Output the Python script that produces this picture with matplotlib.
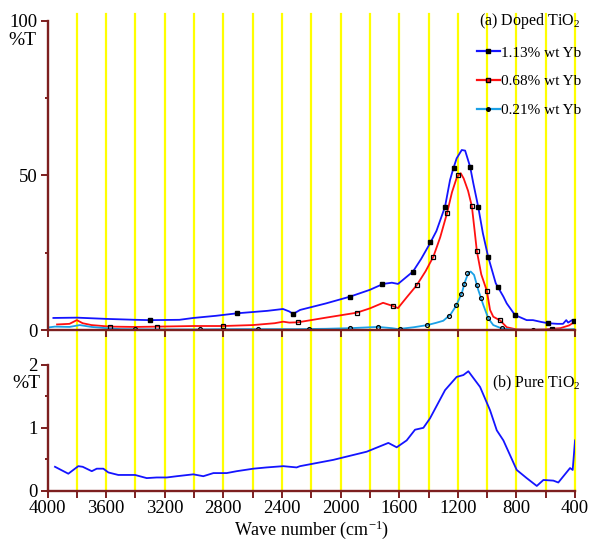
import numpy as np
import matplotlib
matplotlib.use("Agg")
import matplotlib.pyplot as plt
from matplotlib.lines import Line2D
from matplotlib import transforms

plt.rcParams['font.family'] = ['Liberation Serif', 'DejaVu Serif']
plt.rcParams['mathtext.fontset'] = 'custom'
plt.rcParams['mathtext.rm'] = 'Liberation Serif'
plt.rcParams['mathtext.it'] = 'Liberation Serif:italic'

# (a) doped TiO2 spectra
wn_113 = [3960, 3800, 3600, 3400, 3300, 3100, 3005, 2850, 2708, 2500, 2393, 2350, 2324, 2276,
          2100, 1935, 1800, 1710, 1650, 1608, 1506, 1450, 1390, 1346, 1287, 1253, 1232, 1208,
          1173, 1150, 1116, 1094, 1061, 1029, 993, 941, 889, 866, 810, 730, 687, 630, 584,
          520, 482, 460, 447, 420, 400]
t_113 = [3.9, 4.0, 3.6, 3.3, 3.2, 3.3, 3.9, 4.6, 5.4, 6.2, 6.8, 6.0, 5.2, 6.5,
         8.6, 10.8, 13.0, 14.9, 15.3, 14.9, 18.9, 23.0, 28.0, 32.0, 39.9, 48.5, 52.0, 55.5,
         58.2, 58.0, 52.8, 47.4, 39.9, 31.3, 23.7, 15.1, 10.8, 8.6, 4.85, 3.2, 3.2, 2.6, 2.2,
         2.0, 2.0, 3.2, 2.4, 3.2, 3.0]

wn_068 = [3935, 3850, 3800, 3760, 3700, 3574, 3400, 3254, 3000, 2800, 2600, 2450, 2392, 2350,
          2290, 2100, 1890, 1800, 1710, 1645, 1608, 1550, 1480, 1420, 1367, 1320, 1274, 1240,
          1205, 1180, 1160, 1130, 1104, 1085, 1070, 1040, 1002, 980, 958, 911, 866, 800, 700,
          600, 560, 500, 440, 400]
t_068 = [1.8, 2.0, 3.2, 2.2, 1.6, 1.1, 1.0, 1.1, 1.3, 1.3, 1.6, 2.2, 2.7, 2.4,
         2.5, 4.0, 5.6, 7.0, 8.8, 7.8, 7.1, 10.5, 14.5, 19.0, 23.7, 30.0, 37.7, 44.5,
         49.6, 50.7, 49.0, 45.0, 40.0, 32.0, 25.5, 18.0, 12.7, 6.5, 4.3, 3.1, 0.9, 0.2, 0.1,
         0.2, 0.4, 0.6, 1.5, 2.7]

wn_021 = [4000, 3950, 3850, 3780, 3700, 3600, 3500, 3300, 3000, 2700, 2500, 2300, 2100, 1935,
          1745, 1650, 1608, 1500, 1408, 1350, 1299, 1250, 1212, 1173, 1151, 1128, 1112, 1089,
          1060, 1026, 992, 958, 900, 810, 700, 560, 450, 400]
t_021 = [0.8, 1.1, 1.0, 1.6, 1.0, 0.6, 0.3, 0.2, 0.2, 0.3, 0.3, 0.3, 0.4, 0.6,
         1.0, 0.6, 0.3, 0.9, 1.6, 2.3, 3.0, 5.0, 7.8, 11.9, 15.6, 18.5, 18.9, 17.8,
         12.9, 8.1, 3.8, 1.6, 0.5, 0.1, 0.1, 0.1, 0.2, 0.3]

# marker positions on each curve
mk_wn_113 = [3300, 2708, 2324, 1935, 1717, 1506, 1387, 1287, 1228, 1116, 1061, 993, 925, 810, 584, 405]
mk_t_113 = [3.2, 5.4, 5.2, 10.8, 14.8, 18.9, 28.3, 39.9, 52.5, 52.8, 39.9, 23.7, 14.0, 4.85, 2.2, 3.0]
mk_wn_068 = [3574, 3254, 2800, 2290, 1890, 1645, 1480, 1367, 1274, 1200, 1104, 1070, 1002, 911, 560]
mk_t_068 = [1.1, 1.1, 1.3, 2.5, 5.6, 7.8, 14.5, 23.7, 37.7, 50.0, 40.0, 25.5, 12.7, 3.1, 0.4]
mk_wn_021 = [3400, 2960, 2566, 2215, 1935, 1745, 1594, 1408, 1260, 1209, 1180, 1161, 1136,
             1070, 1045, 993, 900, 690, 558]
mk_t_021 = [0.3, 0.2, 0.3, 0.3, 0.6, 1.0, 0.4, 1.6, 4.6, 8.2, 11.5, 14.8, 18.3,
            14.5, 10.5, 3.8, 0.5, 0.1, 0.1]

# (b) pure TiO2
wn_pure = [3949, 3858, 3790, 3760, 3698, 3664, 3619, 3585, 3517, 3403, 3323, 3255, 3186, 3118,
           3005, 2937, 2868, 2777, 2709, 2595, 2504, 2391, 2300, 2277, 2050, 1822, 1674, 1617,
           1549, 1492, 1435, 1390, 1287, 1208, 1162, 1128, 1048, 980, 934, 889, 798, 730,
           661, 616, 548, 514, 434, 416, 400]
t_pure = [0.38, 0.27, 0.39, 0.38, 0.31, 0.35, 0.35, 0.29, 0.25, 0.25, 0.20, 0.21, 0.21, 0.23,
          0.26, 0.23, 0.28, 0.28, 0.31, 0.35, 0.37, 0.39, 0.37, 0.39, 0.49, 0.62, 0.76, 0.69,
          0.80, 0.97, 1.00, 1.15, 1.60, 1.81, 1.84, 1.90, 1.65, 1.28, 0.96, 0.80, 0.33, 0.20,
          0.075, 0.17, 0.16, 0.13, 0.36, 0.33, 0.80]

labels = ['1.13% wt Yb', '0.68% wt Yb', '0.21% wt Yb']
grid_wn = list(range(3800, 399, -200))

maroon = '#7d1f1f'
blue = '#1414ff'
red = '#ff1010'
cyan = '#1aa0e6'

fig = plt.figure(figsize=(5.97, 5.42), dpi=100)
ax1 = fig.add_axes([0.0796, 0.3911, 0.8836, 0.5707])
ax2 = fig.add_axes([0.0796, 0.0947, 0.8836, 0.2319])

for ax in (ax1, ax2):
    ax.set_facecolor('none')
    ax.set_xlim(4000, 400)
    for s in ('top', 'right'):
        ax.spines[s].set_visible(False)
    for s in ('left', 'bottom'):
        ax.spines[s].set_color(maroon)
        ax.spines[s].set_linewidth(1.7)
    ax.tick_params(colors=maroon, labelcolor='black', labelsize=13.5, width=1.4, length=5, pad=2)
    ax.tick_params(which='minor', colors=maroon, width=1.4, length=2)

# yellow grid lines running through both panels
tr = transforms.blended_transform_factory(ax1.transData, fig.transFigure)
for w in grid_wn:
    fig.add_artist(Line2D([w, w], [0.0941, 0.9742], transform=tr, color='#ffff00',
                          lw=1.6, zorder=-1))

ax1.plot(wn_113, t_113, color=blue, lw=1.3)
ax1.plot(wn_068, t_068, color=red, lw=1.3)
ax1.plot(wn_021, t_021, color=cyan, lw=1.3)
ax1.plot(mk_wn_113, mk_t_113, ls='none', marker='s', ms=2.8, mfc='black', mec='black')
ax1.plot(mk_wn_068, mk_t_068, ls='none', marker='s', ms=2.9, mfc='none', mec='black', mew=0.9)
ax1.plot(mk_wn_021, mk_t_021, ls='none', marker='o', ms=2.8, mfc='none', mec='black', mew=0.9)

ax1.set_ylim(0, 100)
ax1.set_yticks([0, 50, 100])
ax1.set_yticks([25, 75], minor=True)
ax1.set_xticks(range(4000, 399, -400))
ax1.tick_params(axis='x', labelbottom=False)

handles = [
    Line2D([], [], color=blue, lw=1.6, marker='s', ms=2.8, mfc='black', mec='black'),
    Line2D([], [], color=red, lw=1.6, marker='s', ms=3.0, mfc=red, mec='black'),
    Line2D([], [], color=cyan, lw=1.6, marker='o', ms=2.6, mfc='black', mec='black'),
]
ax1.legend(handles, labels, title='(a) Doped TiO$_2$', loc='upper left',
           bbox_to_anchor=(477 / 597, 1 - 11 / 542), bbox_transform=fig.transFigure,
           frameon=False, fontsize=11, title_fontsize=11.5, borderpad=0, borderaxespad=0,
           handlelength=1.5, handletextpad=0.1, labelspacing=0.98)

ax2.plot(wn_pure, t_pure, color=blue, lw=1.3)
ax2.set_ylim(0, 2)
ax2.set_yticks([0, 1, 2])
ax2.set_yticks([0.5, 1.5], minor=True)
ax2.set_xticks(range(4000, 399, -400))
ax2.set_xticks(range(3800, 399, -400), minor=True)
ax2.tick_params(axis='x', which='minor', length=5)
ax2.set_xlabel('Wave number (cm$^{-1}$)', fontsize=13, labelpad=1)
ax2.text(1.01, 0.855, '(b) Pure TiO$_2$', transform=ax2.transAxes, ha='right', va='center',
         fontsize=11.5)

fig.text(0.038, 0.925, '%T', fontsize=14, ha='center', va='center')
fig.text(0.045, 0.293, '%T', fontsize=14, ha='center', va='center')

fig.savefig('out.png', dpi=100)
